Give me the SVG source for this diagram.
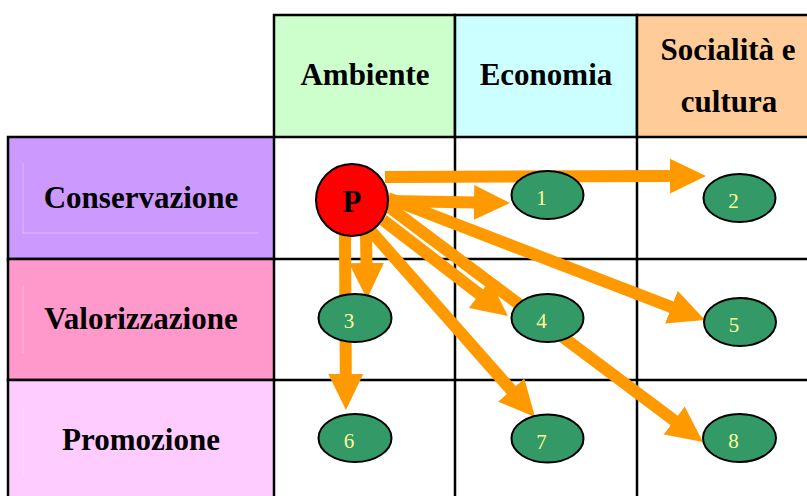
<svg xmlns="http://www.w3.org/2000/svg" width="807" height="496" viewBox="0 0 807 496">
<style>
.cell{stroke:#000;stroke-width:2.5}
.grid{stroke:#000;stroke-width:2.5;fill:none}
.lbl{font-family:"Liberation Serif","Times New Roman",serif;font-weight:bold;font-size:31px;fill:#000;text-anchor:middle}
.faint{stroke:#fff;stroke-opacity:0.35;stroke-width:1;fill:none}
.arr{stroke:#FF9900;stroke-width:12;fill:none;marker-end:url(#head)}
.node{fill:#339966;stroke:#000;stroke-width:2}
.num{font-family:"Liberation Serif","Times New Roman",serif;font-size:21px;fill:#FFFF99;text-anchor:middle}
</style>
<defs>
<marker id="head" markerUnits="userSpaceOnUse" markerWidth="36" markerHeight="36" viewBox="0 0 36 36" refX="3" refY="18" orient="auto">
<path d="M0,0.5 L36,18 L0,35.5 z" fill="#FF9900"/>
</marker>
</defs>
<rect width="807" height="496" fill="#fff"/>
<g id="header-ambiente"><rect class="cell" x="274" y="15" width="181" height="122" fill="#CCFFCC"/><text class="lbl" x="365" y="85">Ambiente</text></g>
<g id="header-economia"><rect class="cell" x="455" y="15" width="182" height="122" fill="#CCFFFF"/><text class="lbl" x="546" y="85">Economia</text></g>
<g id="header-socialita"><rect class="cell" x="637" y="15" width="182" height="122" fill="#FFCC99"/><text class="lbl" x="728" y="60">Socialità e</text><text class="lbl" x="729" y="112">cultura</text></g>
<g id="row-conservazione"><rect class="cell" x="8" y="137" width="266" height="122" fill="#CC99FF"/><path class="faint" d="M23,163 V233 H259"/><text class="lbl" x="141" y="208">Conservazione</text></g>
<g id="row-valorizzazione"><rect class="cell" x="8" y="259" width="266" height="121" fill="#FF99CC"/><path class="faint" d="M23,285 V353"/><text class="lbl" x="141" y="329">Valorizzazione</text></g>
<g id="row-promozione"><rect class="cell" x="8" y="380" width="266" height="130" fill="#FFCCFF"/><path class="faint" d="M23,407 V475"/><text class="lbl" x="141" y="450">Promozione</text></g>
<g id="grid">
<path class="grid" d="M455,137 V496 M637,137 V496 M274,259 H807 M274,380 H807"/>
</g>
<g id="connectors">
<path class="arr" d="M385,177 L673,176.1"/>
<path class="arr" d="M388,201 L477,202.5"/>
<path class="arr" d="M366,232 L366.5,266"/>
<path class="arr" d="M345,232 L345.8,377"/>
<path class="arr" d="M388,198 L674.2,308.2"/>
<path class="arr" d="M383,220 L481.8,295.9"/>
<path class="arr" d="M385,204 L676.6,422.2"/>
<path class="arr" d="M370,230 L513.2,392.3"/>
</g>
<g id="node-P"><circle cx="352" cy="200" r="36" fill="#FF0000" stroke="#000" stroke-width="2"/><text class="lbl" x="352" y="212">P</text></g>
<g id="node-1"><ellipse class="node" cx="547.5" cy="195" rx="36" ry="24"/><text class="num" x="541.5" y="205">1</text></g>
<g id="node-2"><ellipse class="node" cx="739.5" cy="198" rx="36" ry="24"/><text class="num" x="733.5" y="208">2</text></g>
<g id="node-3"><ellipse class="node" cx="355" cy="318" rx="36.5" ry="24"/><text class="num" x="349" y="328">3</text></g>
<g id="node-4"><ellipse class="node" cx="547.5" cy="318" rx="36" ry="24"/><text class="num" x="541.5" y="328">4</text></g>
<g id="node-5"><ellipse class="node" cx="740" cy="322" rx="36" ry="24"/><text class="num" x="734" y="332">5</text></g>
<g id="node-6"><ellipse class="node" cx="355" cy="438" rx="36.5" ry="24"/><text class="num" x="349" y="448">6</text></g>
<g id="node-7"><ellipse class="node" cx="547.5" cy="438.5" rx="36" ry="24"/><text class="num" x="541.5" y="448.5">7</text></g>
<g id="node-8"><ellipse class="node" cx="739.5" cy="438" rx="36.5" ry="24"/><text class="num" x="733.5" y="448">8</text></g>
</svg>
